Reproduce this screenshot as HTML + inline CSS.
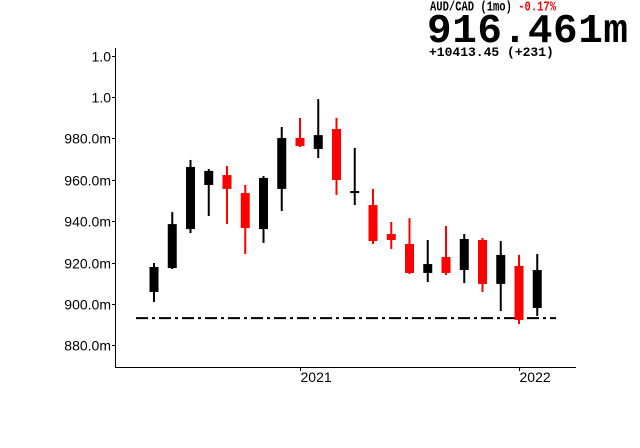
<!DOCTYPE html>
<html><head><meta charset="utf-8"><style>
html,body{margin:0;padding:0;background:#fff;}
#c{position:relative;width:640px;height:448px;overflow:hidden;font-family:"Liberation Mono","DejaVu Sans Mono",monospace;}
.h1{position:absolute;left:430px;top:0px;font-size:10.5px;font-weight:bold;color:#000;letter-spacing:0px;transform:scaleY(1.3);transform-origin:0 0;}
.h2{position:absolute;left:427px;top:9px;font-size:41px;font-weight:bold;color:#000;letter-spacing:0.6px;}
.h3{position:absolute;left:429px;top:45px;font-size:13px;font-weight:bold;color:#000;}
svg text{font-family:"Liberation Sans",sans-serif;font-size:14px;}
</style></head><body>
<div id="c">
<div class="h1">AUD/CAD (1mo) <span style="color:#f00">-0.17%</span></div>
<div class="h2">916.461m</div>
<div class="h3">+10413.45 (+231)</div>
<svg id="s" width="640" height="448" style="position:absolute;left:0;top:0"></svg>
</div>
<script>
const opens =[905.8,917.4,936.2,957.5,962.3,953.6,936.2,955.6,980.2,974.9,984.5,953.6,947.8,933.8,929.0,915.0,922.7,916.4,930.9,909.7,918.4,898.1];
const closes=[917.9,938.6,966.2,964.3,955.6,936.7,960.9,980.2,976.3,981.6,959.9,954.6,930.4,930.9,915.0,919.3,915.0,931.4,909.7,923.7,892.3,916.4];
const highs =[919.8,944.4,969.6,965.2,966.7,957.5,961.8,985.5,989.9,999.0,989.9,975.4,955.6,939.6,941.5,930.9,937.7,933.8,931.9,930.4,923.7,924.2];
const lows  =[901.0,916.9,934.3,942.5,938.6,924.2,929.5,944.9,975.8,970.5,952.7,947.8,929.0,926.6,914.5,910.6,914.0,910.1,905.8,896.6,890.3,894.2];
const yTicks=[880,900,920,940,960,980,1000,1020];
const yTickLabels=["880.0m","900.0m","920.0m","940.0m","960.0m","980.0m","1.0","1.0"];
const xTickIdx=[8,20];
const xTickLabels=["2021","2022"];
const refLevel=893.2;

const NS="http://www.w3.org/2000/svg";
const s=document.getElementById('s');
function y(v){return 304-(v-900)*2.07;}
function x(i){return 154+i*18.25;}
function mk(t,a,p){const e=document.createElementNS(NS,t);for(const k in a)e.setAttribute(k,a[k]);(p||s).appendChild(e);return e;}
const ax=mk('g',{});


const yl=mk('line',{x1:115.5,y1:48,x2:115.5,y2:367.5,stroke:'#000','stroke-width':1},ax);


const xl=mk('line',{x1:115,y1:367.5,x2:576,y2:367.5,stroke:'#000','stroke-width':1},ax);


yTicks.forEach((v,i)=>{
  const yy=Math.round(y(v))+0.5;
  mk('line',{x1:112,y1:yy,x2:115,y2:yy,stroke:'#000'},ax);
  const t=mk('text',{x:111,y:yy+5,'text-anchor':'end',fill:'#000'},ax);
  
  
  t.textContent=yTickLabels[i];
});
xTickIdx.forEach((idx,i)=>{
  const xx=Math.round(x(idx))+0.5;
  mk('line',{x1:xx,y1:367,x2:xx,y2:371,stroke:'#000'},ax);
  const t=mk('text',{x:xx,y:382,fill:'#000'},ax);
  
  
  t.textContent=xTickLabels[i];
});
const rl=mk('line',{x1:136,y1:y(refLevel),x2:556,y2:y(refLevel),stroke:'#000','stroke-width':2,'stroke-dasharray':'12,4,3,4'});


opens.forEach((o,i)=>{
  const c=closes[i],col=c>=o?'#000':'#f00',cx=x(i);
  const g=mk('g',{});
  
  
  mk('rect',{x:cx-1,y:y(highs[i]),width:2,height:y(lows[i])-y(highs[i]),fill:col},g);
  const top=y(Math.max(o,c)),bot=y(Math.min(o,c));
  mk('rect',{x:cx-4.5,y:top,width:9,height:Math.max(2,bot-top),fill:col},g);
});
</script>
</body></html>
